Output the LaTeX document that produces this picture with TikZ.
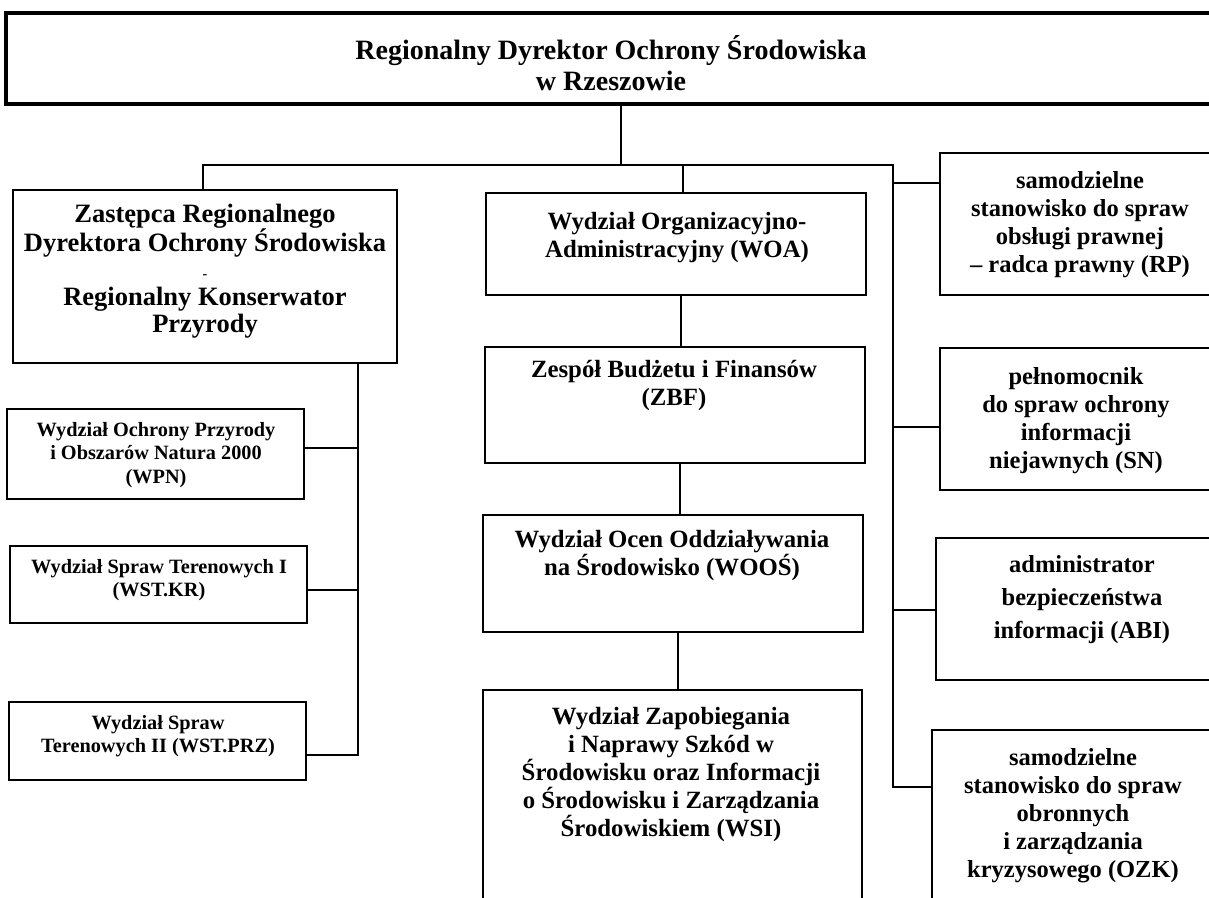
\documentclass[tikz,border=0pt]{standalone}
\usepackage{fontspec}
\setmainfont{Liberation Serif}
\begin{document}
\begin{tikzpicture}[x=1pt,y=-1pt,
  box/.style={draw, line width=1.8pt, rectangle, inner sep=0pt, outer sep=0pt, anchor=north west},
  conn/.style={line width=2.8pt, line cap=rect},
  txt/.style={align=center, inner sep=0pt},
  ftitle/.style={font=\fontsize{28}{31}\selectfont\bfseries},
  fbig/.style={font=\fontsize{26.5}{27}\selectfont\bfseries},
  fmid/.style={font=\fontsize{24.8}{28}\selectfont\bfseries},
  fsmall/.style={font=\fontsize{20.3}{23.5}\selectfont\bfseries},
  fright/.style={font=\fontsize{24.5}{28}\selectfont\bfseries}]
\useasboundingbox (0,0) rectangle (1209,897);
\clip (0,0) rectangle (1209,897);
\fill[white] (0,0) rectangle (1209,897);

% boxes
\node[box, line width=4pt, minimum width=1215pt, minimum height=91pt] (top) at (6,13) {};
\node[box, minimum width=384pt, minimum height=173pt] (zast) at (13,190) {};
\node[box, minimum width=297pt, minimum height=90pt] (wpn) at (7,409) {};
\node[box, minimum width=297pt, minimum height=77pt] (wstkr) at (10,546) {};
\node[box, minimum width=297pt, minimum height=78pt] (wstprz) at (9,702) {};
\node[box, minimum width=380pt, minimum height=102pt] (woa) at (486,193) {};
\node[box, minimum width=380pt, minimum height=116pt] (zbf) at (485,347) {};
\node[box, minimum width=380pt, minimum height=117pt] (woos) at (483,515) {};
\node[box, minimum width=379pt, minimum height=230pt] (wsi) at (483,690) {};
\node[box, minimum width=280pt, minimum height=142pt] (rp) at (940,153) {};
\node[box, minimum width=280pt, minimum height=142pt] (sn) at (940,348) {};
\node[box, minimum width=284pt, minimum height=142pt] (abi) at (936,538) {};
\node[box, minimum width=288pt, minimum height=190pt] (ozk) at (932,730) {};

% texts
\node[txt, ftitle] (top-t) at (611,63) {Regionalny Dyrektor Ochrony Środowiska\\w Rzeszowie};
\node[txt, fbig] (zast-t) at (205,271) {Zastępca Regionalnego\\Dyrektora Ochrony Środowiska\\{\fontsize{14}{27}\selectfont -}\\Regionalny Konserwator\\Przyrody};
\node[txt, fsmall] (wpn-t) at (156,455) {Wydział Ochrony Przyrody\\i Obszarów Natura 2000\\(WPN)};
\node[txt, fsmall] (wstkr-t) at (159,580) {Wydział Spraw Terenowych I\\(WST.KR)};
\node[txt, fsmall] (wstprz-t) at (158,736) {Wydział Spraw\\Terenowych II (WST.PRZ)};
\node[txt, fmid] (woa-t) at (677,238) {Wydział Organizacyjno-\\Administracyjny (WOA)};
\node[txt, fmid] (zbf-t) at (674,386) {Zespół Budżetu i Finansów\\(ZBF)};
\node[txt, fmid] (woos-t) at (672,556) {Wydział Ocen Oddziaływania\\na Środowisko (WOOŚ)};
\node[txt, fmid] (wsi-t) at (671,775) {Wydział Zapobiegania\\i Naprawy Szkód w\\Środowisku oraz Informacji\\o Środowisku i Zarządzania\\Środowiskiem (WSI)};
\node[txt, fright] (rp-t) at (1080,225) {samodzielne\\stanowisko do spraw\\obsługi prawnej\\– radca prawny (RP)};
\node[txt, fright] (sn-t) at (1076,421) {pełnomocnik\\do spraw ochrony\\informacji\\niejawnych (SN)};
\node[txt, fright, font=\fontsize{24.5}{33}\selectfont\bfseries] (abi-t) at (1082,600) {administrator\\bezpieczeństwa\\informacji (ABI)};
\node[txt, fright] (ozk-t) at (1073,816) {samodzielne\\stanowisko do spraw\\obronnych\\i zarządzania\\kryzysowego (OZK)};

% junction coordinates
\coordinate (jt) at (621,165);
\coordinate (jl) at (203,165);
\coordinate (jm) at (683,165);
\coordinate (jr) at (893,165);
\coordinate (ls) at (358,363);
\coordinate (rpc) at (940,183);
\coordinate (snc) at (940,427);
\coordinate (abic) at (936,610);
\coordinate (ozkc) at (932,787);
\coordinate (wpnc) at (304,448);
\coordinate (wstkrc) at (307,590);
\coordinate (wstprzc) at (306,755);

% connectors
\draw[conn] (top.south -| jt) -- (jt);
\draw[conn] (jl) -- (jr);
\draw[conn] (jl) -- (zast.north -| jl);
\draw[conn] (jm) -- (woa.north -| jm);
\draw[conn] (jr) -- (jr |- ozkc) -- (ozkc);
\draw[conn] (jr |- rpc) -- (rpc);
\draw[conn] (jr |- snc) -- (snc);
\draw[conn] (jr |- abic) -- (abic);
\draw[conn] (ls) -- (ls |- wstprzc) -- (wstprzc);
\draw[conn] (ls |- wpnc) -- (wpnc);
\draw[conn] (ls |- wstkrc) -- (wstkrc);
\draw[conn] (woa.south -| 681,0) -- (zbf.north -| 681,0);
\draw[conn] (zbf.south -| 680,0) -- (woos.north -| 680,0);
\draw[conn] (woos.south -| 678,0) -- (wsi.north -| 678,0);
\end{tikzpicture}
\end{document}
